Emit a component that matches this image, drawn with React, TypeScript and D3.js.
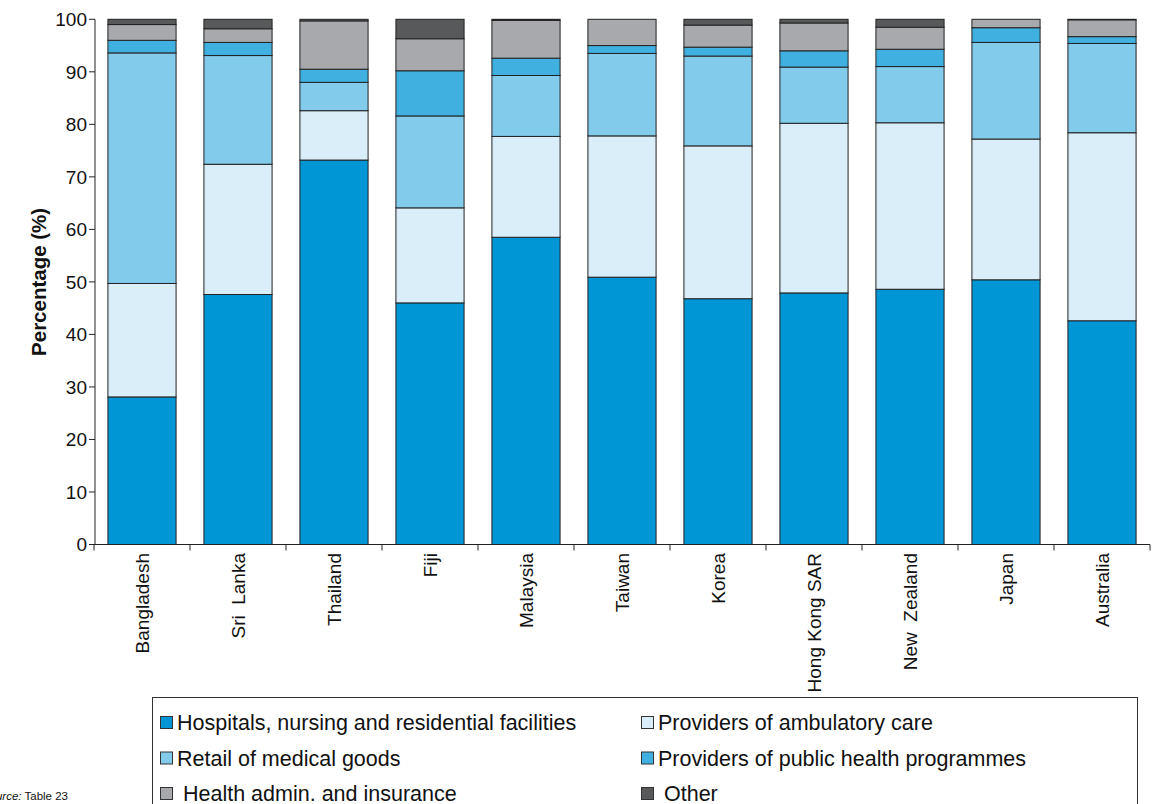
import React from "react";
import * as d3 from "d3";

const categories = ["Bangladesh", "Sri  Lanka", "Thailand", "Fiji", "Malaysia", "Taiwan", "Korea", "Hong Kong SAR", "New  Zealand", "Japan", "Australia"];
const seriesNames = [
  "Hospitals, nursing and residential facilities",
  "Providers of ambulatory care",
  "Retail of medical goods",
  "Providers of public health programmes",
  "Health admin. and insurance",
  "Other",
];
const hospitals = [28.1, 47.6, 73.2, 46.0, 58.5, 50.9, 46.8, 47.9, 48.6, 50.4, 42.6];
const ambulatory = [21.6, 24.8, 9.4, 18.1, 19.2, 26.9, 29.1, 32.3, 31.7, 26.8, 35.8];
const retail = [43.9, 20.7, 5.4, 17.5, 11.6, 15.7, 17.1, 10.7, 10.7, 18.4, 17.0];
const publicHealth = [2.4, 2.5, 2.5, 8.6, 3.3, 1.5, 1.7, 3.1, 3.3, 2.8, 1.3];
const admin = [3.0, 2.6, 9.2, 6.1, 7.2, 5.0, 4.2, 5.3, 4.2, 1.6, 3.2];
const other = [1.0, 1.8, 0.3, 3.7, 0.2, 0.0, 1.1, 0.7, 1.5, 0.0, 0.1];
const yTicks = [0, 10, 20, 30, 40, 50, 60, 70, 80, 90, 100];
const colors = ["#0096d6", "#daeef9", "#82cbeb", "#40b0e0", "#a7a9ac", "#58595b"];

const series = [hospitals, ambulatory, retail, publicHealth, admin, other];

export default function App() {
  const W = 1153, H = 804;
  const x = d3.scaleBand<string>().domain(categories).range([94, 1150]).paddingInner(0.29).paddingOuter(0.145);
  const y = d3.scaleLinear().domain([0, 100]).range([544.5, 19.3]);

  const rows = categories.map((c, i) => {
    const r: any = { cat: c };
    seriesNames.forEach((s, k) => (r[s] = series[k][i]));
    return r;
  });
  const stacked = d3.stack<any>().keys(seriesNames)(rows);

  const font = "'Liberation Sans', Arial, Helvetica, sans-serif";
  const legendRows = [0, 1, 2];
  return (
    <svg width={W} height={H} style={{ position: "absolute", left: 0, top: 0, background: "#fff" }} fontFamily={font}>
      {stacked.map((layer, k) => (
        <g key={k}>
          {layer.map((d, i) => {
            const h = y(d[0]) - y(d[1]);
            if (h <= 0) return null;
            return (
              <rect key={i} x={x(categories[i])} y={y(d[1])} width={x.bandwidth()} height={h}
                fill={colors[k]} stroke="#222" strokeWidth={1} />
            );
          })}
        </g>
      ))}
      {/* y axis */}
      <line x1={95} x2={95} y1={y(100)} y2={y(0)} stroke="#222" strokeWidth={1} />
      {yTicks.map((t) => (
        <g key={t}>
          <line x1={89} x2={95} y1={y(t)} y2={y(t)} stroke="#222" />
          <text x={87} y={y(t)} dy="0.36em" textAnchor="end" fontSize={19} fill="#111">{t}</text>
        </g>
      ))}
      <text transform={`translate(46,${(y(0) + y(100)) / 2}) rotate(-90)`} textAnchor="middle" fontSize={20.5} fontWeight="bold" fill="#111">Percentage (%)</text>
      {/* x axis */}
      <line x1={94} x2={1150} y1={y(0)} y2={y(0)} stroke="#222" />
      {d3.range(categories.length + 1).map((i) => {
        const xx = 94 + i * x.step();
        return <line key={i} x1={xx} x2={xx} y1={y(0)} y2={y(0) + 6} stroke="#222" />;
      })}
      {categories.map((c) => (
        <text key={c} transform={`translate(${(x(c) as number) + x.bandwidth() / 2},553) rotate(-90)`} dy="0.36em" textAnchor="end" fontSize={19} fill="#111" style={{ whiteSpace: "pre" }}>{c}</text>
      ))}
      {/* legend */}
      <rect x={152.5} y={697.5} width={985} height={130} fill="none" stroke="#333" />
      {legendRows.map((r) => (
        [0, 1].map((c) => {
          const idx = r * 2 + c;
          const lx = c === 0 ? 160 : 641;
          const ly = 722 + r * 35.5;
          const extra = r === 2 ? 6 : 0;
          return (
            <g key={idx}>
              <rect x={lx + 0.5} y={ly - 5.5} width={12} height={12} fill={colors[idx]} stroke="#333" />
              <text x={lx + 17 + extra} y={ly + 0.5} dy="0.36em" fontSize={21.5} fill="#111">{seriesNames[idx]}</text>
            </g>
          );
        })
      ))}
      <text x={68} y={800} textAnchor="end" fontSize={11.5} fill="#111">
        <tspan fontStyle="italic">Source:</tspan> Table 23
      </text>
    </svg>
  );
}
